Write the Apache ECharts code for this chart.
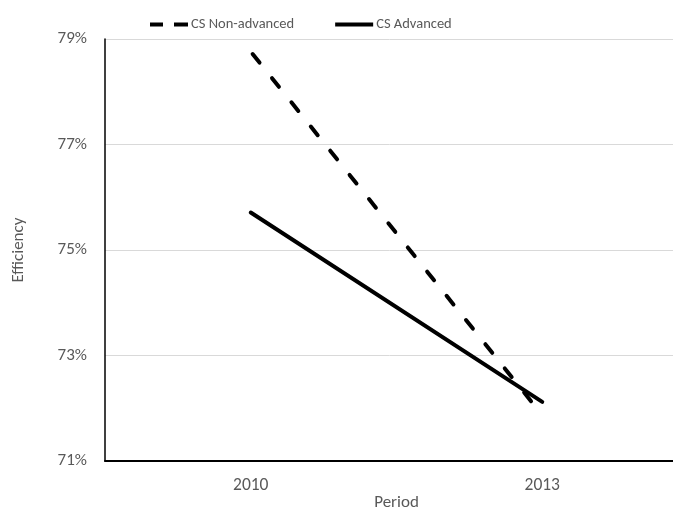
<!DOCTYPE html>
<html><head><meta charset="utf-8">
<script src="https://cdn.jsdelivr.net/npm/echarts@6/dist/echarts.min.js"></script>
<style>html,body{margin:0;padding:0;background:#fff}#c{width:673px;height:510px}</style>
</head><body><div id="c"></div>
<script>
const categories = ['2010', '2013'];
const nonAdvanced = [78.76, 71.87];
const advanced = [75.71, 72.12];
const yTicks = [71, 73, 75, 77, 79];
const seriesNames = ['CS Non-advanced', 'CS Advanced'];

const font = 'Carlito, "Open Sans", "Liberation Sans", sans-serif';
const chart = echarts.init(document.getElementById('c'), null, {renderer: 'canvas'});
chart.setOption({
  animation: false,
  backgroundColor: '#fff',
  grid: {left: 105, right: -15, top: 39, bottom: 49, containLabel: false, outerBoundsMode: 'none'},
  legend: {
    top: 12, left: 145,
    itemWidth: 38, itemHeight: 4, itemGap: 41,
    textStyle: {color: '#595959', fontSize: 14.5, fontFamily: font, padding: [0, 0, 0, -2]},
    data: [
      {name: seriesNames[0], icon: 'path://M0 0H13V4H0Z M24 0H38V4H24Z'},
      {name: seriesNames[1], icon: 'path://M0 0H38V4H0Z'}
    ]
  },
  xAxis: {
    type: 'category', data: categories, boundaryGap: true,
    name: 'Period', nameLocation: 'middle', nameGap: 33, nameMoveOverlap: false,
    nameTextStyle: {color: '#595959', fontSize: 17, fontFamily: font},
    axisLine: {lineStyle: {color: '#000', width: 2}},
    axisTick: {show: false},
    axisLabel: {color: '#595959', fontSize: 17.5, fontFamily: font, margin: 16}
  },
  yAxis: {
    type: 'value', min: yTicks[0], max: yTicks[yTicks.length - 1], interval: 2,
    name: 'Efficiency', nameLocation: 'middle', nameGap: 78, nameRotate: 90, nameMoveOverlap: false,
    nameTextStyle: {color: '#595959', fontSize: 17, fontFamily: font},
    axisLine: {show: true, lineStyle: {color: '#000', width: 1.5}},
    axisTick: {show: false},
    axisLabel: {color: '#595959', fontSize: 17, fontFamily: font, margin: 18, formatter: '{value}%'},
    splitLine: {lineStyle: {color: '#d9d9d9', width: 1}}
  },
  series: [
    {
      name: seriesNames[0], type: 'line', data: nonAdvanced,
      symbol: 'none', color: '#000',
      lineStyle: {color: '#000', width: 4, type: [11, 20], dashOffset: -3, cap: 'round'}
    },
    {
      name: seriesNames[1], type: 'line', data: advanced,
      symbol: 'none', color: '#000',
      lineStyle: {color: '#000', width: 4, cap: 'round'}
    }
  ]
});
</script></body></html>
